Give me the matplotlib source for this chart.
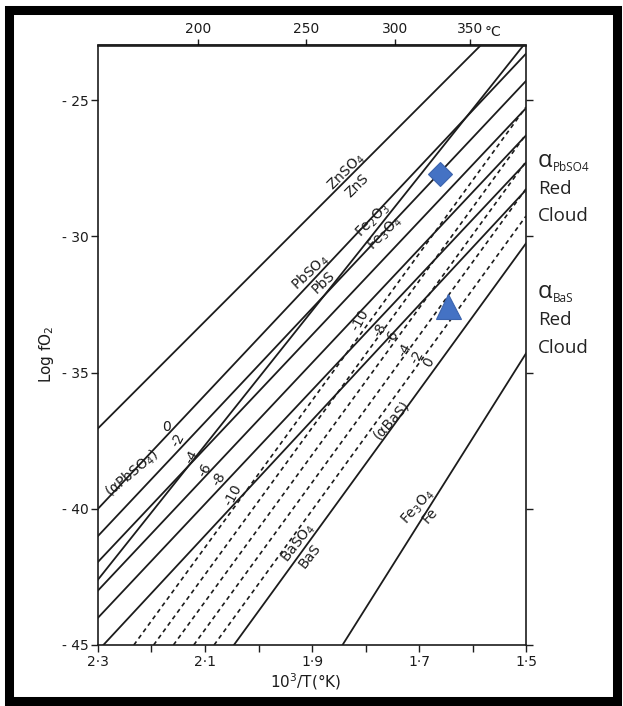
import numpy as np
import matplotlib
matplotlib.use("Agg")
import matplotlib.pyplot as plt
from matplotlib.patches import Rectangle

# ---------------- data ----------------
# x = 10^3/T (K), y = log fO2 ; each line given by its two end points
znso4_u = [2.30, 1.585]
znso4_y = [-37.05, -23.0]

pbso4_levels = ["0", "-2", "-4", "-6", "-8", "-10"]
pbso4_u0 = [2.30, 2.30, 2.30, 2.30, 2.30, 2.29]
pbso4_y0 = [-40.0, -41.0, -41.95, -43.0, -44.0, -45.0]
pbso4_u1 = [1.50, 1.50, 1.50, 1.50, 1.50, 1.50]
pbso4_y1 = [-23.3, -24.3, -25.3, -26.3, -27.3, -28.3]

fe2o3_u = [2.30, 1.505]
fe2o3_y = [-42.6, -23.0]

bas_levels = ["0", "-2", "-4", "-6", "-8", "-10"]
bas_u0 = [2.046, 2.083, 2.121, 2.159, 2.196, 2.233]
bas_y0 = [-45.0, -45.0, -45.0, -45.0, -45.0, -45.0]
bas_u1 = [1.50, 1.50, 1.50, 1.50, 1.50, 1.50]
bas_y1 = [-30.26, -29.26, -28.26, -27.26, -26.26, -25.26]

fe3o4_u = [1.843, 1.50]
fe3o4_y = [-45.0, -34.3]

# label positions (u, y)
pbso4_lab_u = [2.1716, 2.150, 2.125, 2.100, 2.073, 2.047]
pbso4_lab_y = [-37.0, -37.48, -38.09, -38.58, -38.91, -39.50]
bas_lab_u = [1.6826, 1.7032, 1.7262, 1.751, 1.773, 1.8103]
bas_lab_y = [-34.61, -34.43, -34.18, -33.69, -33.45, -33.08]

# Red Cloud samples
pbso4_sample = (1.6607, -27.70)
bas_sample = (1.6458, -32.57)

x_ticks = [2.3, 2.2, 2.1, 2.0, 1.9, 1.8, 1.7, 1.6, 1.5]
x_ticklabels = ["2·3", "", "2·1", "", "1·9", "", "1·7", "", "1·5"]
y_ticks = [-45, -40, -35, -30, -25]
y_ticklabels = ["- 45", "- 40", "- 35", "- 30", "- 25"]
t_ticks = [200, 250, 300, 350]
t_ticklabels = ["200", "250", "300", "350"]

# ---------------- figure ----------------
W, H = 623, 706
fig = plt.figure(figsize=(W / 100, H / 100), dpi=100)
plt.rcParams['font.family'] = ['DejaVu Sans']

def fx(x):
    return x / W

def fy(y):
    return 1 - y / H

ax = fig.add_axes([fx(98), fy(645), (526 - 98) / W, (645 - 45.5) / H])
ax.set_xlim(2.3, 1.5)
ax.set_ylim(-45, -23)

lc = "#1c1c1c"
lw = 1.3
ax.plot(znso4_u, znso4_y, color=lc, lw=lw)
for u0, y0, u1, y1 in zip(pbso4_u0, pbso4_y0, pbso4_u1, pbso4_y1):
    ax.plot([u0, u1], [y0, y1], color=lc, lw=lw)
ax.plot(fe2o3_u, fe2o3_y, color=lc, lw=lw)
for i, (u0, y0, u1, y1) in enumerate(zip(bas_u0, bas_y0, bas_u1, bas_y1)):
    if i == 0:
        ax.plot([u0, u1], [y0, y1], color=lc, lw=lw)
    else:
        ax.plot([u0, u1], [y0, y1], color=lc, lw=1.2, ls=(0, (2.6, 2.2)))
ax.plot(fe3o4_u, fe3o4_y, color=lc, lw=lw)

# markers
ax.plot(*pbso4_sample, marker="D", ms=12.5, color="#4472C4",
        mec="#3b63ad", mew=0.8, ls="none", zorder=5)
ax.plot(*bas_sample, marker="^", ms=18, color="#4472C4",
        mec="#3b63ad", mew=0.8, ls="none", zorder=5)

# line labels
fs = 10
tk = dict(color=lc, fontsize=fs, ha="center", va="center")
ax.text(1.835, -27.64, "ZnSO$_4$", rotation=45, **tk)
ax.text(1.8165, -28.13, "ZnS", rotation=45, **tk)
ax.text(1.9037, -31.31, "PbSO$_4$", rotation=43, **tk)
ax.text(1.879, -31.68, "PbS", rotation=43, **tk)
ax.text(1.7854, -29.42, "Fe$_2$O$_3$", rotation=45, **tk)
ax.text(1.7636, -29.90, "Fe$_3$O$_4$", rotation=45, **tk)
ax.text(1.9256, -41.27, "BaSO$_4$", rotation=52, **tk)
ax.text(1.904, -41.73, "BaS", rotation=52, **tk)
ax.text(1.7013, -39.93, "Fe$_3$O$_4$", rotation=48, **tk)
ax.text(1.6794, -40.23, "Fe", rotation=48, **tk)
ax.text(2.237, -38.70, "(αPbSO$_4$)", rotation=40, **tk)
ax.text(1.751, -36.75, "(αBaS)", rotation=48, **tk)
for s, u, y in zip(pbso4_levels, pbso4_lab_u, pbso4_lab_y):
    ax.text(u, y, s, rotation=0 if s == "0" else 62, **tk)
for s, u, y in zip(bas_levels, bas_lab_u, bas_lab_y):
    ax.text(u, y, s, rotation=62, **tk)

# axes styling
for sp in ax.spines.values():
    sp.set_linewidth(1.2)
    sp.set_color(lc)
ax.set_xticks(x_ticks)
ax.set_xticklabels(x_ticklabels)
ax.set_yticks(y_ticks)
ax.set_yticklabels(y_ticklabels)
ax.tick_params(axis="both", direction="out", length=5, width=1.0,
               labelsize=10, colors=lc, pad=2)
ax.tick_params(axis="y", right=True, labelright=False)


def u2c(u):
    u = np.asarray(u, dtype=float)
    with np.errstate(divide="ignore", invalid="ignore"):
        return 1000.0 / u - 273.15


def c2u(c):
    c = np.asarray(c, dtype=float)
    with np.errstate(divide="ignore", invalid="ignore"):
        return 1000.0 / (c + 273.15)


sec = ax.secondary_xaxis("top", functions=(u2c, c2u))
sec.set_xticks(t_ticks)
sec.set_xticklabels(t_ticklabels)
sec.tick_params(direction="out", length=4, width=1.0, labelsize=10,
                colors=lc, pad=3)
sec.spines["top"].set_linewidth(1.2)
fig.text(fx(493), fy(31.5), "°C", fontsize=10, ha="center", va="center",
         color=lc)

fig.text(fx(47), fy(354), "Log fO$_2$", rotation=90, fontsize=11,
         ha="center", va="center", color=lc)
fig.text(fx(306), fy(682), "10$^3$/T(°K)", fontsize=11, ha="center",
         va="center", color=lc)

# right-hand annotations
rf = ["Open Sans", "DejaVu Sans"]
tc = "#222222"
fig.text(fx(538), fy(167), "α", fontsize=17, family=rf, color=tc, va="baseline")
fig.text(fx(553), fy(171), "PbSO4", fontsize=8.5, family=rf, color=tc, va="baseline")
fig.text(fx(538), fy(194), "Red", fontsize=13.5, family=rf, color=tc, va="baseline")
fig.text(fx(538), fy(221), "Cloud", fontsize=13.5, family=rf, color=tc, va="baseline")
fig.text(fx(538), fy(298), "α", fontsize=17, family=rf, color=tc, va="baseline")
fig.text(fx(553), fy(302), "BaS", fontsize=8.5, family=rf, color=tc, va="baseline")
fig.text(fx(538), fy(325), "Red", fontsize=13.5, family=rf, color=tc, va="baseline")
fig.text(fx(538), fy(353), "Cloud", fontsize=13.5, family=rf, color=tc, va="baseline")

# black picture frame
fig.patches.append(Rectangle((fx(8.5), fy(701)), (617 - 8.5) / W, (701 - 10) / H,
                             transform=fig.transFigure, fill=False,
                             edgecolor="black", linewidth=6.5))

fig.savefig("out.png", dpi=100)
